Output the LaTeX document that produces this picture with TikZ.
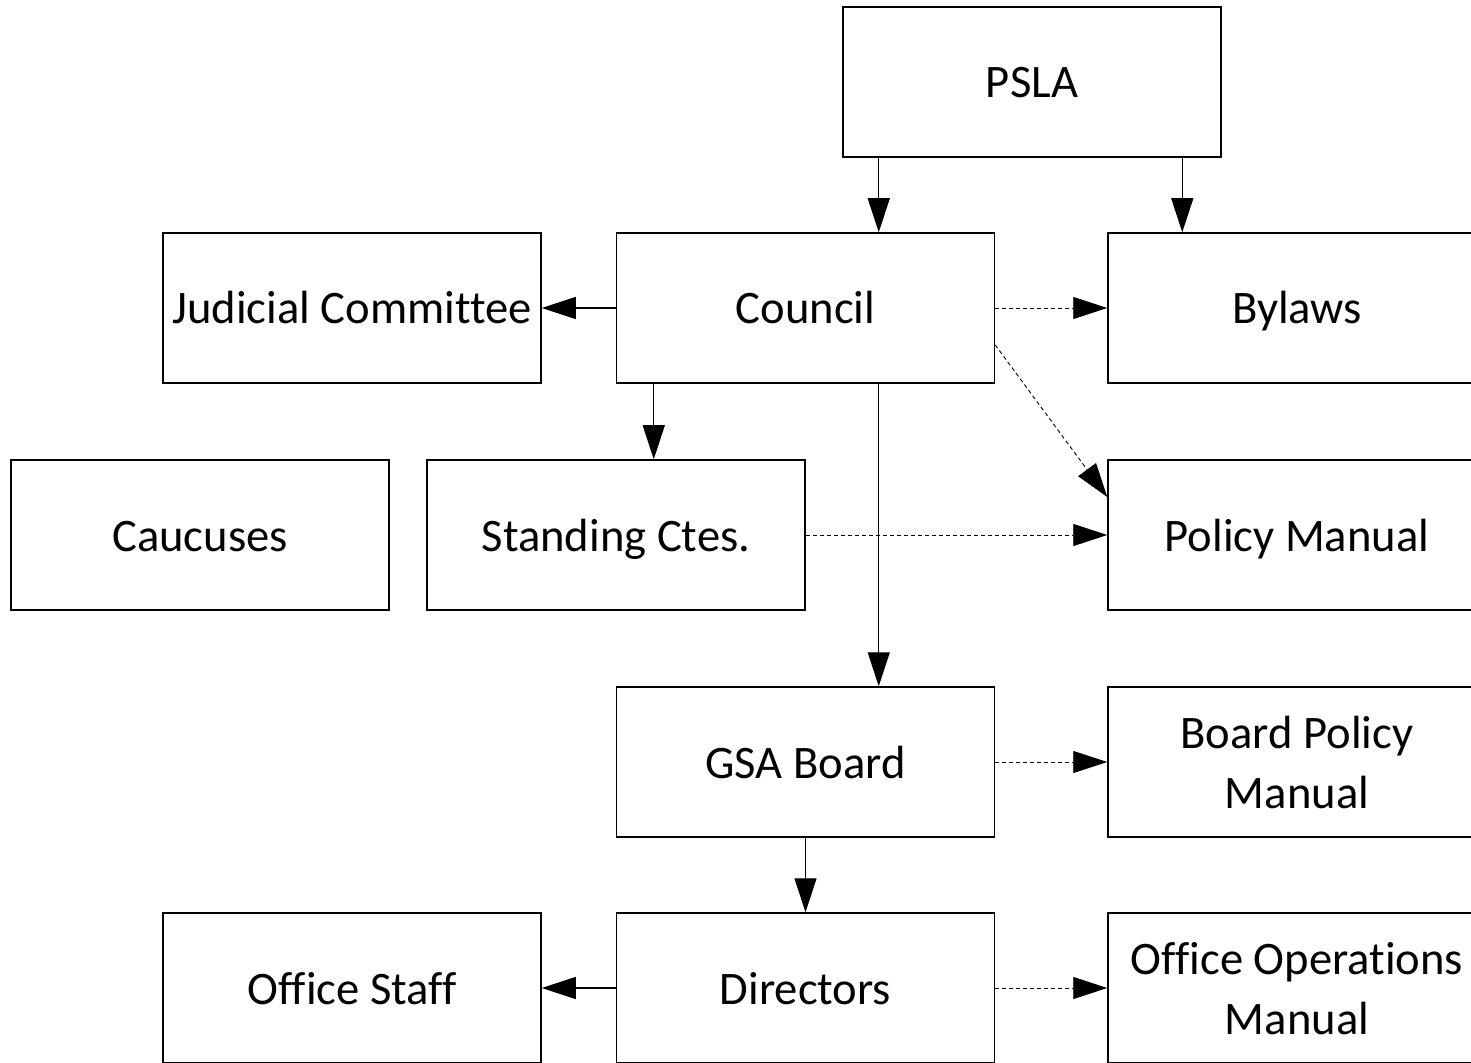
\documentclass[tikz,border=0pt]{standalone}
\usepackage{fontspec}
\setmainfont{Carlito}[Ligatures={CommonOff,ContextualOff,RareOff}]
\usetikzlibrary{arrows.meta,calc}
\newcommand\boxstrut{\rule[-6pt]{0pt}{28pt}}
\tikzset{
  box/.style={draw,line width=0.75pt,minimum width=189pt,minimum height=75pt,
    inner sep=0pt,align=center,font=\fontsize{23.3}{30}\selectfont},
  link/.style={line width=0.6pt,-{Triangle[length=17pt,width=11pt]}},
  dlink/.style={link,line width=0.45pt,dash pattern=on 2pt off 1.5pt}
}
\begin{document}
\begin{tikzpicture}[x=0.5pt,y=-0.5pt]
\useasboundingbox (0,0) rectangle (1471,1063);
\clip (0,0) rectangle (1471,1063);
\foreach \n/\x/\y/\t in {psla/1032/82/PSLA,
    council/805.5/308/Council, judicial/352/308/Judicial Committee, bylaws/1297/308/Bylaws,
    caucuses/200/535/Caucuses, standing/616/535/Standing Ctes., policy/1297/535/Policy Manual,
    gsa/805.5/762/GSA Board, boardpol/1297/762/{Board Policy\\Manual},
    staff/352/988/Office Staff, directors/805.5/988/Directors, opsman/1297/988/{Office Operations\\Manual}}
  \node[box] (\n) at (\x,\y) {\boxstrut\t\boxstrut};
\coordinate (c1) at ($(council.north west)+(263,0)$);
\coordinate (c2) at ($(council.south west)+(38,0)$);
\coordinate (c3) at ($(council.south west)+(263,0)$);
\coordinate (b1) at ($(bylaws.north west)+(75,0)$);
\draw[link] (psla.south -| c1) -- (c1);
\draw[link] (psla.south -| b1) -- (b1);
\draw[link] (council.west) -- (judicial.east);
\draw[link] (c2) -- (standing.north -| c2);
\draw[link] (c3) -- (gsa.north -| c3);
\draw[link] (gsa.south) -- (directors.north);
\draw[link] (directors.west) -- (staff.east);
\draw[dlink] (council.east) -- (bylaws.west);
\draw[dlink] ([yshift=-18.5pt]council.east) -- ([yshift=19pt]policy.west);
\draw[dlink] (standing.east) -- (policy.west);
\draw[dlink] (gsa.east) -- (boardpol.west);
\draw[dlink] (directors.east) -- (opsman.west);
\end{tikzpicture}
\end{document}
